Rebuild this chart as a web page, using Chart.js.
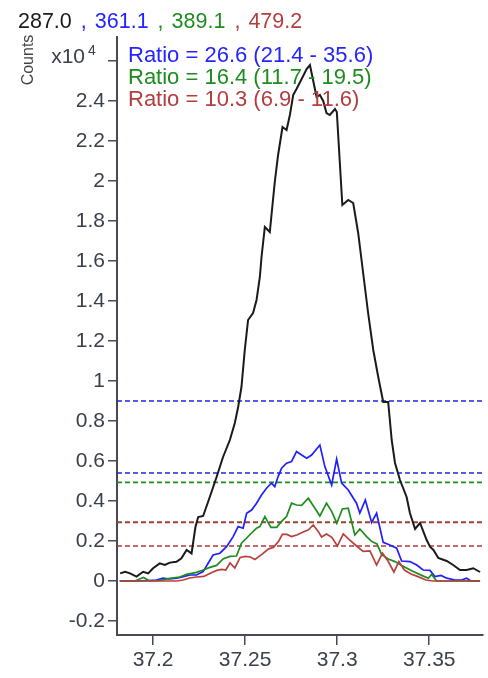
<!DOCTYPE html>
<html>
<head>
<meta charset="utf-8">
<script src="https://cdn.jsdelivr.net/npm/chart.js@4.4.1/dist/chart.umd.min.js"></script>
<style>
  html, body { margin: 0; padding: 0; background: #fff; }
</style>
</head>
<body>
<canvas id="chromChart" width="488" height="678"></canvas>
<script>
// Ion masses shown in the header, one colour per trace
const ionMasses = ['287.0', '361.1', '389.1', '479.2'];
const ionColors = ['#1a1a1a', '#2424ff', '#1f8c1f', '#b53d3d'];

// Qualifier ratio text (percent of the 287.0 response, with allowed range)
const ratioLabels = [
    'Ratio = 26.6 (21.4 - 35.6)',
    'Ratio = 16.4 (11.7 - 19.5)',
    'Ratio = 10.3 (6.9 - 11.6)'
];

// Axis ticks (counts are in units of 10^4)
const xTicks = [37.2, 37.25, 37.3, 37.35];
const xTickLabels = ['37.2', '37.25', '37.3', '37.35'];
const yTicks = [-0.2, 0, 0.2, 0.4, 0.6, 0.8, 1, 1.2, 1.4, 1.6, 1.8, 2, 2.2, 2.4, 2.6];
const yTickLabels = ['-0.2', '0', '0.2', '0.4', '0.6', '0.8', '1', '1.2', '1.4', '1.6', '1.8', '2', '2.2', '2.4', ''];
const xRange = [37.1804, 37.3792];
const yRange = [-0.27, 2.72];

// 287.0 (target ion)
const blackTime = [
    37.1821, 37.1848, 37.1875, 37.1910, 37.1946, 37.1973, 37.2000, 37.2036, 37.2064, 37.2091,
    37.2127, 37.2154, 37.2182, 37.2209, 37.2230, 37.2245, 37.2272, 37.2308, 37.2345, 37.2380,
    37.2417, 37.2444, 37.2462, 37.2480, 37.2498, 37.2516, 37.2543, 37.2562, 37.2580, 37.2589,
    37.2607, 37.2634, 37.2661, 37.2679, 37.2703, 37.2725, 37.2743, 37.2761, 37.2779, 37.2807,
    37.2834, 37.2852, 37.2870, 37.2888, 37.2906, 37.2924, 37.2942, 37.2960, 37.2988, 37.2998,
    37.3028, 37.3060, 37.3087, 37.3114, 37.3141, 37.3168, 37.3196, 37.3223, 37.3250, 37.3277,
    37.3296, 37.3314, 37.3341, 37.3377, 37.3395, 37.3423, 37.3450, 37.3486, 37.3505, 37.3523,
    37.3549, 37.3595, 37.3630, 37.3667, 37.3703, 37.3739, 37.3776
];
const blackCounts = [
    0.038, 0.046, 0.038, 0.022, 0.046, 0.038, 0.064, 0.088, 0.080, 0.092,
    0.096, 0.114, 0.155, 0.138, 0.270, 0.320, 0.325, 0.420, 0.520, 0.620,
    0.705, 0.790, 0.870, 0.970, 1.155, 1.305, 1.340, 1.405, 1.520, 1.620,
    1.770, 1.745, 1.995, 2.130, 2.270, 2.255, 2.330, 2.430, 2.460, 2.510,
    2.560, 2.580, 2.500, 2.420, 2.430, 2.400, 2.340, 2.330, 2.360, 2.345,
    1.880, 1.905, 1.890, 1.740, 1.540, 1.340, 1.155, 1.020, 0.895, 0.895,
    0.705, 0.590, 0.505, 0.420, 0.340, 0.260, 0.290, 0.205, 0.170, 0.155,
    0.115, 0.100, 0.080, 0.055, 0.055, 0.064, 0.045
];

// 361.1 (qualifier 1)
const blueTime = [
    37.1819, 37.1928, 37.2018, 37.2054, 37.2091, 37.2129, 37.2165, 37.2199, 37.2236, 37.2272,
    37.2299, 37.2326, 37.2363, 37.2399, 37.2435, 37.2462, 37.2489, 37.2508, 37.2535, 37.2562,
    37.2589, 37.2616, 37.2643, 37.2661, 37.2679, 37.2698, 37.2725, 37.2752, 37.2779, 37.2807,
    37.2834, 37.2861, 37.2906, 37.2933, 37.2970, 37.2997, 37.3024, 37.3060, 37.3105, 37.3123,
    37.3153, 37.3187, 37.3214, 37.3250, 37.3286, 37.3323, 37.3350, 37.3395, 37.3432, 37.3467,
    37.3504, 37.3531, 37.3564, 37.3595, 37.3640, 37.3676, 37.3703, 37.3727, 37.3776
];
const blueCounts = [
    0, 0, 0.005, 0.014, 0.010, 0.014, 0.022, 0.030, 0.030, 0.047,
    0.089, 0.130, 0.139, 0.172, 0.222, 0.272, 0.264, 0.339, 0.355, 0.389,
    0.430, 0.464, 0.489, 0.472, 0.522, 0.564, 0.589, 0.597, 0.647, 0.630,
    0.614, 0.630, 0.680, 0.572, 0.480, 0.610, 0.489, 0.455, 0.389, 0.339,
    0.405, 0.293, 0.339, 0.193, 0.180, 0.164, 0.100, 0.097, 0.080, 0.055,
    0.053, 0.022, 0.028, 0.014, 0.005, 0.005, 0.014, 0, 0
];

// 389.1 (qualifier 2)
const greenTime = [
    37.1819, 37.1901, 37.1947, 37.1982, 37.2036, 37.2091, 37.2145, 37.2182, 37.2236, 37.2272,
    37.2308, 37.2345, 37.2380, 37.2417, 37.2453, 37.2480, 37.2508, 37.2535, 37.2562, 37.2580,
    37.2607, 37.2640, 37.2671, 37.2698, 37.2725, 37.2752, 37.2779, 37.2807, 37.2843, 37.2879,
    37.2906, 37.2942, 37.2970, 37.2998, 37.3028, 37.3060, 37.3096, 37.3123, 37.3160, 37.3187,
    37.3216, 37.3241, 37.3277, 37.3314, 37.3350, 37.3379, 37.3413, 37.3459, 37.3495, 37.3513,
    37.3540, 37.3580, 37.3667, 37.3776
];
const greenCounts = [
    0, 0, 0.018, 0, 0.003, 0.013, 0.020, 0.033, 0.043, 0.055,
    0.068, 0.078, 0.110, 0.123, 0.125, 0.189, 0.215, 0.240, 0.264, 0.272,
    0.322, 0.268, 0.268, 0.298, 0.322, 0.389, 0.380, 0.378, 0.414, 0.364,
    0.325, 0.389, 0.348, 0.289, 0.360, 0.364, 0.230, 0.260, 0.222, 0.198,
    0.185, 0.133, 0.110, 0.097, 0.078, 0.064, 0.047, 0.028, 0.014, 0.033,
    0, 0, 0, 0
];

// 479.2 (qualifier 3)
const redTime = [
    37.1819, 37.1982, 37.2127, 37.2164, 37.2199, 37.2236, 37.2276, 37.2319, 37.2346, 37.2373,
    37.2395, 37.2418, 37.2444, 37.2473, 37.2501, 37.2528, 37.2553, 37.2591, 37.2626, 37.2653,
    37.2683, 37.2702, 37.2727, 37.2752, 37.2781, 37.2815, 37.2842, 37.2870, 37.2897, 37.2915,
    37.2942, 37.2971, 37.3001, 37.3033, 37.3064, 37.3105, 37.3141, 37.3178, 37.3214, 37.3246,
    37.3276, 37.3308, 37.3335, 37.3365, 37.3401, 37.3439, 37.3482, 37.3520, 37.3612, 37.3776
];
const redCounts = [
    0, 0, 0, 0.005, 0.015, 0.020, 0.023, 0.043, 0.053, 0.058,
    0.055, 0.090, 0.065, 0.118, 0.123, 0.120, 0.108, 0.133, 0.160, 0.168,
    0.200, 0.233, 0.233, 0.222, 0.230, 0.245, 0.255, 0.280, 0.248, 0.220,
    0.235, 0.218, 0.175, 0.235, 0.208, 0.175, 0.148, 0.150, 0.080, 0.139,
    0.100, 0.045, 0.097, 0.055, 0.035, 0.022, 0.005, 0, 0, 0
];

// Ratio window limits drawn as dashed lines (upper, lower)
const blueLimits = [0.90, 0.54];
const greenLimits = [0.493, 0.294];
const redLimits = [0.293, 0.175];

const fontFamily = '"Liberation Sans", Arial, sans-serif';
const axisColor = '#454a55';
const labelColor = '#3a404c';

function toPoints(times, counts) {
    return times.map((t, i) => ({ x: t, y: counts[i] }));
}

function trace(label, times, counts, color, order, width) {
    return {
        label: label,
        data: toPoints(times, counts),
        borderColor: color,
        borderWidth: width,
        pointRadius: 0,
        tension: 0,
        fill: false,
        order: order
    };
}

// lower order is painted on top
function limitLine(value, color, order) {
    return {
        label: 'limit',
        data: [{ x: xRange[0], y: value }, { x: xRange[1], y: value }],
        borderColor: color,
        borderWidth: 1.6,
        borderDash: [5, 3],
        pointRadius: 0,
        fill: false,
        order: order
    };
}

// Header, axis title, exponent and ratio text
const chromLabels = {
    id: 'chromLabels',
    afterDraw(chart) {
        const ctx = chart.ctx;
        ctx.save();
        ctx.textBaseline = 'alphabetic';

        // ion list across the top
        ctx.font = '21.5px ' + fontFamily;
        ctx.textAlign = 'left';
        let x = 18;
        ionMasses.forEach((m, i) => {
            ctx.fillStyle = ionColors[i];
            if (i > 0) {
                ctx.fillText(',', x + 9, 27.5);
                x += 23;
            }
            ctx.fillText(m, x, 27.5);
            x += ctx.measureText(m).width;
        });

        // "Counts" axis title
        ctx.save();
        ctx.translate(33, 60);
        ctx.rotate(-Math.PI / 2);
        ctx.font = '16px ' + fontFamily;
        ctx.fillStyle = '#444';
        ctx.textAlign = 'center';
        ctx.fillText('Counts', 0, 0);
        ctx.restore();

        // x10^4 exponent in place of the top tick label
        ctx.fillStyle = labelColor;
        ctx.textAlign = 'right';
        ctx.font = '21px ' + fontFamily;
        ctx.fillText('x10', 85, 63);
        ctx.textAlign = 'left';
        ctx.font = '14px ' + fontFamily;
        ctx.fillText('4', 88, 55);

        // qualifier ratios
        ctx.font = '22px ' + fontFamily;
        ratioLabels.forEach((t, i) => {
            ctx.fillStyle = ionColors[i + 1];
            ctx.fillText(t, 128, 62 + i * 22);
        });
        ctx.restore();
    }
};

new Chart(document.getElementById('chromChart'), {
    type: 'line',
    data: {
        datasets: [
            trace('479.2', redTime, redCounts, '#b8413f', 0, 1.7),
            trace('389.1', greenTime, greenCounts, '#1f8c1f', 1, 1.7),
            trace('361.1', blueTime, blueCounts, '#1f1fff', 2, 1.7),
            trace('287.0', blackTime, blackCounts, '#1a1a1a', 3, 2),
            limitLine(redLimits[0], '#a83a3a', 10),
            limitLine(redLimits[1], '#a83a3a', 10),
            limitLine(greenLimits[0], '#1f8c1f', 11),
            limitLine(greenLimits[1], '#1f8c1f', 11),
            limitLine(blueLimits[0], '#2323e6', 12),
            limitLine(blueLimits[1], '#2323e6', 12)
        ]
    },
    options: {
        responsive: false,
        animation: false,
        devicePixelRatio: 1,
        layout: { padding: { top: 37, right: 5, left: 0, bottom: 0 } },
        plugins: {
            legend: { display: false },
            tooltip: { enabled: false }
        },
        scales: {
            x: {
                type: 'linear',
                min: xRange[0],
                max: xRange[1],
                afterBuildTicks: s => { s.ticks = xTicks.map(v => ({ value: v })); },
                afterFit: s => { s.height = 43; },
                ticks: {
                    callback: (v, i) => xTickLabels[i],
                    font: { family: fontFamily, size: 21 },
                    color: labelColor,
                    padding: 3,
                    maxRotation: 0,
                    autoSkip: false
                },
                grid: { drawOnChartArea: false, drawTicks: true, tickLength: 10, color: axisColor, lineWidth: 1.5 },
                border: { display: true, color: axisColor, width: 2 }
            },
            y: {
                type: 'linear',
                min: yRange[0],
                max: yRange[1],
                afterBuildTicks: s => { s.ticks = yTicks.map(v => ({ value: v })); },
                afterFit: s => { s.width = 117; },
                ticks: {
                    callback: (v, i) => yTickLabels[i],
                    font: { family: fontFamily, size: 21 },
                    color: labelColor,
                    padding: 3,
                    autoSkip: false
                },
                grid: { drawOnChartArea: false, drawTicks: true, tickLength: 9, color: axisColor, lineWidth: 1.5 },
                border: { display: true, color: axisColor, width: 2 }
            }
        }
    },
    plugins: [chromLabels]
});
</script>
</body>
</html>
